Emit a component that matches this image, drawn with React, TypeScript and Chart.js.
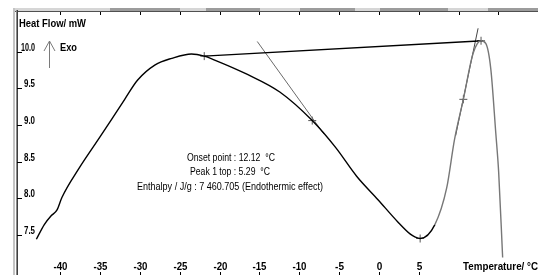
import React, { useEffect, useRef } from "react";
import { Chart, registerables } from "chart.js";

Chart.register(...registerables);

// Heat flow curve (Temperature °C, Heat Flow mW)
const curveT = [-42.98, -41.99, -41.13, -40.39, -39.78, -37.68, -34.98, -31.9, -30.3, -28.08, -25.99, -23.52, -21.92, -20.69, -16.5, -12.44, -8.37, -5.42, -2.8, -0.12, 2.34, 3.94, 4.56, 5.17, 7.02, 8.5, 9.48, 10.59, 11.82, 12.81, 13.42, 14.04, 14.66, 15.02, 15.52];
const curveHF = [7.44, 7.64, 7.76, 7.84, 8.01, 8.4, 8.84, 9.35, 9.61, 9.82, 9.91, 9.97, 9.94, 9.89, 9.69, 9.45, 9.06, 8.69, 8.3, 7.98, 7.68, 7.51, 7.47, 7.45, 7.64, 8.14, 8.8, 9.35, 9.98, 10.15, 10.11, 9.76, 8.89, 8.36, 7.19];

const baselineT = [-21.92, 13.05];
const baselineHF = [9.94, 10.15];

const tangent1T = [-15.27, -6.9];
const tangent1HF = [10.14, 8.875];

const tangent2T = [12.44, 9.61];
const tangent2HF = [10.32, 8.85];

const markerT = [-21.92, -8.37, 5.17, 10.59, 12.81];
const markerHF = [9.94, 9.06, 7.45, 9.35, 10.15];

const xTicks = [-40, -35, -30, -25, -20, -15, -10, -5, 0, 5];
const xTopTicks = [-40, -35, -30, -25, -20, -15, -10, -5, 0, 5, 10, 15];
const yTicks = [10.0, 9.5, 9.0, 8.5, 8.0, 7.5];

const annotationLines = [
  "Onset point : 12.12  °C",
  "Peak 1 top : 5.29  °C",
  "Enthalpy / J/g : 7 460.705 (Endothermic effect)",
];

const toXY = (xs: number[], ys: number[]) => xs.map((x, i) => ({ x, y: ys[i] }));

const overlay = {
  id: "overlay",
  afterDraw(chart: any) {
    const ctx = chart.ctx as CanvasRenderingContext2D;
    const xs = chart.scales.x;
    const ys = chart.scales.y;
    ctx.save();
    // top bar
    const segs: [number, number, string][] = [
      [15, 110, "#d6d6d6"], [110, 180, "#9c9c9c"], [180, 206, "#d6d6d6"], [206, 260, "#9c9c9c"],
      [260, 300, "#d6d6d6"], [300, 355, "#9c9c9c"], [355, 380, "#d6d6d6"], [380, 448, "#9c9c9c"],
      [448, 488, "#d6d6d6"], [488, 538, "#9c9c9c"],
    ];
    segs.forEach(([a, b, c]) => {
      ctx.fillStyle = c;
      ctx.fillRect(a, 8, b - a, 4);
    });
    ctx.fillStyle = "#505050";
    ctx.fillRect(15, 11, 523, 1);
    // left border
    ctx.fillStyle = "#c4c4c4";
    ctx.fillRect(13, 8, 2, 267);
    ctx.fillStyle = "#8a8a8a";
    ctx.fillRect(16, 10, 1, 265);
    ctx.fillStyle = "#404040";
    ctx.fillRect(17, 10, 1, 265);

    ctx.strokeStyle = "#000";
    ctx.lineWidth = 1;
    // top ticks
    xTopTicks.forEach((t) => {
      const px = Math.round(xs.getPixelForValue(t)) + 0.5;
      ctx.beginPath();
      ctx.moveTo(px, 12);
      ctx.lineTo(px, 15);
      ctx.stroke();
    });
    // bottom ticks and labels
    ctx.fillStyle = "#000";
    ctx.font = "bold 10px 'Liberation Sans', Arial, sans-serif";
    ctx.textAlign = "center";
    ctx.textBaseline = "alphabetic";
    xTicks.forEach((t) => {
      const px = Math.round(xs.getPixelForValue(t)) + 0.5;
      ctx.beginPath();
      ctx.moveTo(px, 272);
      ctx.lineTo(px, 275);
      ctx.stroke();
      ctx.fillText(String(t), px, 270, 14);
    });
    ctx.textAlign = "left";
    ctx.fillText("Temperature/ °C", 463, 270, 75);
    // y ticks and labels
    ctx.textAlign = "right";
    yTicks.forEach((v) => {
      const py = Math.round(ys.getPixelForValue(v)) + 0.5;
      ctx.beginPath();
      ctx.moveTo(17, py);
      ctx.lineTo(22, py);
      ctx.stroke();
      ctx.fillText(v.toFixed(1), 35, py - 2, v >= 10 ? 14 : 11);
    });
    // axis title
    ctx.textAlign = "left";
    ctx.font = "bold 11px 'Liberation Sans', Arial, sans-serif";
    ctx.fillText("Heat Flow/ mW", 19, 27, 67);
    ctx.font = "bold 10px 'Liberation Sans', Arial, sans-serif";
    ctx.fillText("Exo", 60, 51, 17);
    // Exo arrow
    ctx.strokeStyle = "#7a7a7a";
    ctx.beginPath();
    ctx.moveTo(49.5, 41);
    ctx.lineTo(49.5, 68);
    ctx.moveTo(44, 51);
    ctx.lineTo(49.5, 41);
    ctx.lineTo(55, 51);
    ctx.stroke();
    // annotation
    ctx.fillStyle = "#000";
    ctx.font = "11px 'Liberation Sans', Arial, sans-serif";
    ctx.textAlign = "center";
    ctx.fillText(annotationLines[0], 231, 161, 88);
    ctx.fillText(annotationLines[1], 230, 175, 80);
    ctx.fillText(annotationLines[2], 230, 190, 186);
    ctx.restore();
  },
};

export default function App() {
  const ref = useRef<HTMLCanvasElement | null>(null);
  useEffect(() => {
    if (!ref.current) return;
    const chart = new Chart(ref.current, {
      type: "line",
      data: {
        datasets: [
          {
            data: toXY(curveT, curveHF),
            borderColor: "#000",
            borderWidth: 1.4,
            pointRadius: 0,
            cubicInterpolationMode: "monotone",
            segment: {
              borderColor: (c: any) => (c.p0.parsed.x >= 7 ? "#777777" : "#000000"),
            },
          } as any,
          { data: toXY(baselineT, baselineHF), borderColor: "#000", borderWidth: 1.3, pointRadius: 0 },
          { data: toXY(tangent1T, tangent1HF), borderColor: "#6a6a6a", borderWidth: 1, pointRadius: 0 },
          { data: toXY(tangent2T, tangent2HF), borderColor: "#444", borderWidth: 1, pointRadius: 0 },
          {
            data: toXY(markerT, markerHF),
            showLine: false,
            pointStyle: "cross",
            pointRadius: 4,
            borderColor: "#555",
            borderWidth: 1,
          },
        ],
      },
      options: {
        responsive: false,
        animation: false,
        layout: { padding: 0 },
        plugins: { legend: { display: false }, tooltip: { enabled: false } },
        scales: {
          x: { type: "linear", min: -46.92, max: 19.33, display: false },
          y: { type: "linear", min: 7.02, max: 10.638, display: false },
        },
      },
      plugins: [overlay],
    });
    return () => chart.destroy();
  }, []);
  return (
    <div style={{ position: "fixed", left: 0, top: 0, width: 538, height: 275, background: "#fff" }}>
      <canvas ref={ref} width={538} height={275} style={{ display: "block" }} />
    </div>
  );
}
